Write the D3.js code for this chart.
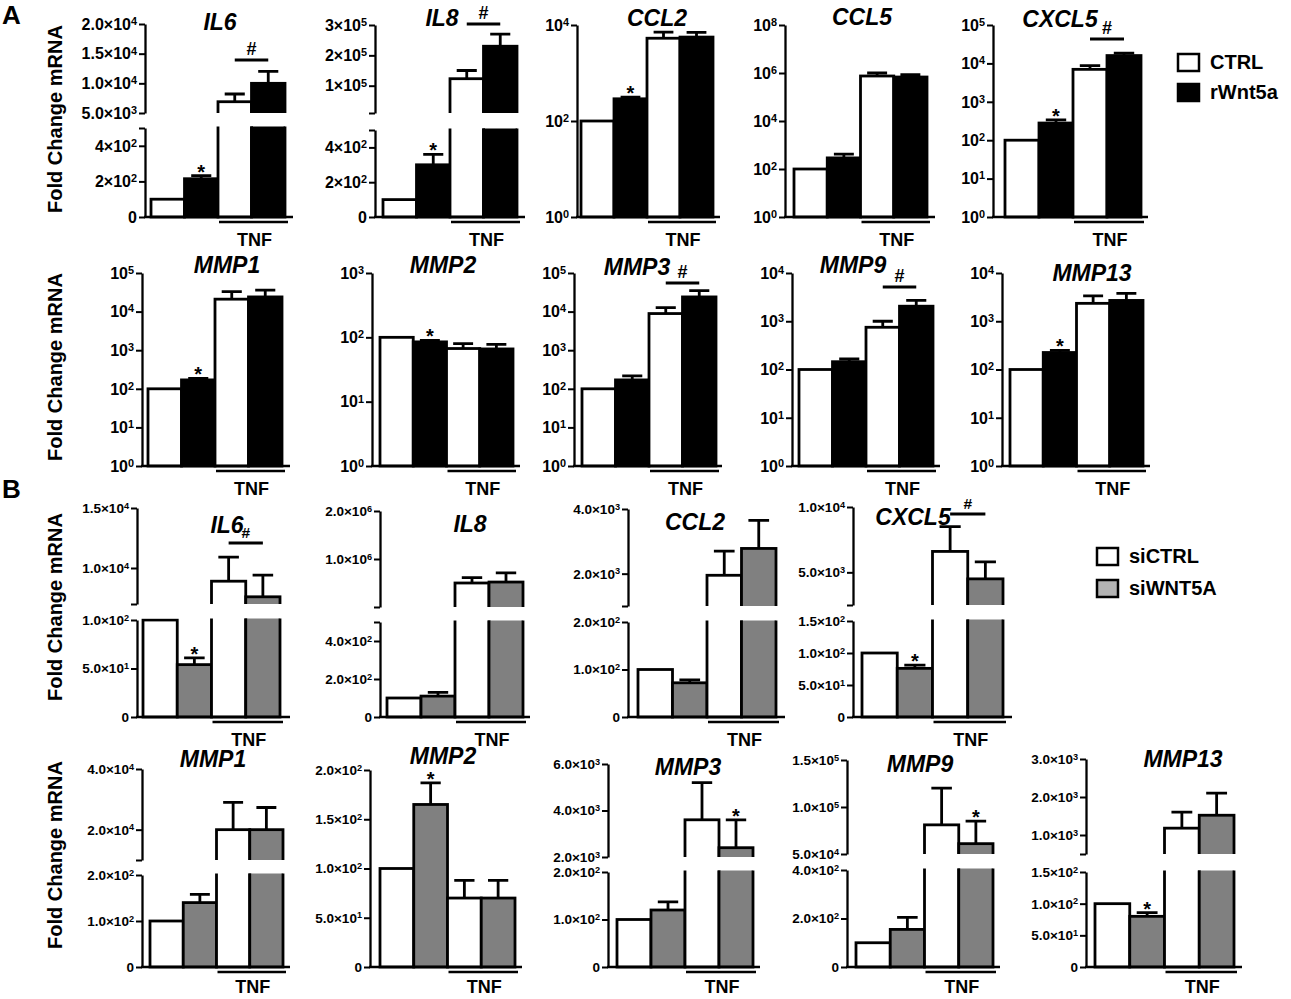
<!DOCTYPE html>
<html>
<head>
<meta charset="utf-8">
<script src="https://cdn.jsdelivr.net/npm/d3@7"></script>
<style>
  body { margin: 0; background: #fff; }
  svg text { font-family: "Liberation Sans", Arial, sans-serif; font-weight: bold; }
</style>
</head>
<body>
<svg id="fig" width="1291" height="999"></svg>
<script>
// ---- data (fold change mRNA, mean and SEM per condition) ----
var seriesA = ["CTRL", "rWnt5a"];
var seriesB = ["siCTRL", "siWNT5A"];

var genesA1 = ["IL6", "IL8", "CCL2", "CCL5", "CXCL5"];
var meanA1 = [[100, 215, 6900, 10000], [100, 300, 123000, 230000], [100, 290, 5300, 5600], [100, 290, 750000, 680000], [100, 280, 7000, 16000]];
var semA1 = [[0, 17, 1300, 2000], [0, 60, 27000, 40000], [0, 25, 1800, 1400], [0, 130, 250000, 170000], [0, 60, 1800, 2500]];
var starA1 = [[1], [1], [1], [], [1]];
var hashA1 = [1, 1, 0, 0, 1];
var ticksA1 = [
  {lo: [0, 200, 400, 500], loLab: ["0", "2×10^2", "4×10^2", ""], hi: [5000, 10000, 15000, 20000], hiLab: ["5.0×10^3", "1.0×10^4", "1.5×10^4", "2.0×10^4"]},
  {lo: [0, 200, 400, 500], loLab: ["0", "2×10^2", "4×10^2", ""], hi: [10000, 100000, 200000, 300000], hiLab: ["", "1×10^5", "2×10^5", "3×10^5"]},
  {log: [0, 2, 4]},
  {log: [0, 2, 4, 6, 8]},
  {log: [0, 1, 2, 3, 4, 5]}
];

var genesA2 = ["MMP1", "MMP2", "MMP3", "MMP9", "MMP13"];
var meanA2 = [[100, 170, 21000, 24000], [100, 85, 67, 66], [100, 170, 8900, 24000], [100, 145, 750, 2050], [100, 225, 2350, 2700]];
var semA2 = [[0, 15, 12000, 12000], [0, 5, 13, 12], [0, 45, 3800, 11000], [0, 20, 250, 650], [0, 25, 1000, 1100]];
var starA2 = [[1], [1], [], [], [1]];
var hashA2 = [0, 0, 1, 1, 0];
var ticksA2 = [{log: [0, 1, 2, 3, 4, 5]}, {log: [0, 1, 2, 3]}, {log: [0, 1, 2, 3, 4, 5]}, {log: [0, 1, 2, 3, 4]}, {log: [0, 1, 2, 3, 4]}];

var genesB1 = ["IL6", "IL8", "CCL2", "CXCL5"];
var meanB1 = [[100, 54, 8900, 7600], [100, 110, 500000, 520000], [100, 72, 1950, 2780], [100, 76, 6600, 4500]];
var semB1 = [[0, 7, 2000, 1800], [0, 20, 110000, 190000], [0, 6, 750, 870], [0, 5, 1900, 1300]];
var starB1 = [[1], [], [], [1]];
var hashB1 = [1, 0, 0, 1];
var ticksB1 = [
  {lo: [0, 50, 100], loLab: ["0", "5.0×10^1", "1.0×10^2"], hi: [7000, 10000, 15000], hiLab: ["", "1.0×10^4", "1.5×10^4"]},
  {lo: [0, 200, 400, 500], loLab: ["0", "2.0×10^2", "4.0×10^2", ""], hi: [0, 1000000, 2000000], hiLab: ["", "1.0×10^6", "2.0×10^6"]},
  {lo: [0, 100, 200], loLab: ["0", "1.0×10^2", "2.0×10^2"], hi: [1000, 2000, 4000], hiLab: ["", "2.0×10^3", "4.0×10^3"]},
  {lo: [0, 50, 100, 150], loLab: ["0", "5.0×10^1", "1.0×10^2", "1.5×10^2"], hi: [2500, 5000, 10000], hiLab: ["", "5.0×10^3", "1.0×10^4"]}
];

var genesB2 = ["MMP1", "MMP2", "MMP3", "MMP9", "MMP13"];
var meanB2 = [[100, 140, 20000, 20000], [100, 165, 70, 70], [100, 120, 3600, 2400], [100, 155, 81000, 61000], [100, 80, 1180, 1520]];
var semB2 = [[0, 18, 9000, 7300], [0, 22, 18, 18], [0, 17, 1600, 1200], [0, 50, 39000, 24000], [0, 6, 420, 580]];
var starB2 = [[], [1], [3], [3], [1]];
var hashB2 = [0, 0, 0, 0, 0];
var ticksB2 = [
  {lo: [0, 100, 200], loLab: ["0", "1.0×10^2", "2.0×10^2"], hi: [10000, 20000, 40000], hiLab: ["", "2.0×10^4", "4.0×10^4"]},
  {lo: [0, 50, 100, 150, 200], loLab: ["0", "5.0×10^1", "1.0×10^2", "1.5×10^2", "2.0×10^2"]},
  {lo: [0, 100, 200], loLab: ["0", "1.0×10^2", "2.0×10^2"], hi: [2000, 4000, 6000], hiLab: ["2.0×10^3", "4.0×10^3", "6.0×10^3"]},
  {lo: [0, 200, 400], loLab: ["0", "2.0×10^2", "4.0×10^2"], hi: [50000, 100000, 150000], hiLab: ["5.0×10^4", "1.0×10^5", "1.5×10^5"]},
  {lo: [0, 50, 100, 150], loLab: ["0", "5.0×10^1", "1.0×10^2", "1.5×10^2"], hi: [500, 1000, 2000, 3000], hiLab: ["", "1.0×10^3", "2.0×10^3", "3.0×10^3"]}
];

// ---- layout (pixel placement of each panel) ----
var layA1 = [
  {ax: 145, b0: 151, b1: 285, xe: 293, top: 24, loTop: 128, hiBot: 113, tx: 220, ty: 30, hashY: 60},
  {ax: 375, b0: 383, b1: 517, xe: 525, top: 25, loTop: 130, hiBot: 113, tx: 442, ty: 26, hashY: 24},
  {ax: 577, b0: 581, b1: 713, xe: 720, top: 25, tx: 657, ty: 26},
  {ax: 785, b0: 794, b1: 927, xe: 935, top: 25, tx: 862, ty: 25},
  {ax: 993, b0: 1005, b1: 1141, xe: 1148, top: 25, tx: 1060, ty: 27, hashY: 39}
];
var layA2 = [
  {ax: 142, b0: 148, b1: 282, xe: 290, top: 273, tx: 227, ty: 273},
  {ax: 372, b0: 380, b1: 513, xe: 520, top: 273, tx: 443, ty: 273},
  {ax: 574, b0: 582, b1: 716, xe: 722, top: 273, tx: 637, ty: 275, hashY: 283},
  {ax: 792, b0: 799, b1: 933, xe: 940, top: 273, tx: 853, ty: 273, hashY: 287},
  {ax: 1002, b0: 1010, b1: 1143, xe: 1150, top: 273, tx: 1092, ty: 281}
];
var layB1 = [
  {ax: 137, b0: 143, b1: 280, xe: 290, top: 508, loTop: 620, hiBot: 604, tx: 227, ty: 533, hashY: 543},
  {ax: 380, b0: 387, b1: 523, xe: 530, top: 511, loTop: 622, hiBot: 607, tx: 470, ty: 532},
  {ax: 628, b0: 638, b1: 776, xe: 785, top: 509, loTop: 622, hiBot: 606, tx: 695, ty: 530},
  {ax: 853, b0: 862, b1: 1003, xe: 1012, top: 507, loTop: 621, hiBot: 605, tx: 913, ty: 525, hashY: 514}
];
var layB2 = [
  {ax: 142, b0: 150, b1: 283, xe: 290, top: 769, loTop: 875, hiBot: 860, tx: 213, ty: 767},
  {ax: 370, b0: 380, b1: 515, xe: 522, top: 770, tx: 443, ty: 764},
  {ax: 608, b0: 617, b1: 753, xe: 760, top: 764, loTop: 872, hiBot: 857, tx: 688, ty: 775},
  {ax: 847, b0: 856, b1: 993, xe: 1000, top: 760, loTop: 870, hiBot: 854, tx: 920, ty: 772},
  {ax: 1086, b0: 1095, b1: 1234, xe: 1242, top: 759, loTop: 872, hiBot: 854, tx: 1183, ty: 767}
];

var svg = d3.select("#fig");
var panelCount = 0;

// write "2.0×10^4" as text with a superscript exponent
function supLabel(sel, str) {
  var parts = str.split("^");
  sel.append("tspan").text(parts[0]);
  if (parts[1]) sel.append("tspan").attr("dy", "-0.45em").attr("font-size", "0.68em").text(parts[1]);
}

function drawPanel(gene, mean, sem, ticks, L, base, stars, hash, fill, tickSize) {
  var idx = panelCount++;
  var g = svg.append("g");
  var x = d3.scaleBand().domain(d3.range(mean.length)).range([L.b0, L.b1]);
  var bw = x.bandwidth();

  // one or two scale segments (broken axis)
  var segs = [];
  if (ticks.log) {
    var e = ticks.log;
    segs.push({s: d3.scaleLog().domain([Math.pow(10, e[0]), Math.pow(10, e[e.length - 1])]).range([base, L.top]),
      v: e.map(function(k) { return Math.pow(10, k); }),
      lab: e.map(function(k) { return "10^" + k; }), y0: base, y1: L.top, first: true});
  } else {
    var loTop = ticks.hi ? L.loTop : L.top;
    segs.push({s: d3.scaleLinear().domain([ticks.lo[0], ticks.lo[ticks.lo.length - 1]]).range([base, loTop]),
      v: ticks.lo, lab: ticks.loLab, y0: base, y1: loTop, first: true});
    if (ticks.hi) {
      segs.push({s: d3.scaleLinear().domain([ticks.hi[0], ticks.hi[ticks.hi.length - 1]]).range([L.hiBot, L.top]),
        v: ticks.hi, lab: ticks.hiLab, y0: L.hiBot, y1: L.top, first: false});
    }
  }
  var loMax = segs[0].s.domain()[1];
  function segOf(v) { return (segs.length > 1 && v > loMax) ? segs[1] : segs[0]; }
  function yOf(v) { return segOf(v).s(v); }

  segs.forEach(function(sg, k) {
    var id = "clip" + idx + "_" + k;
    var dom = sg.s.domain();
    g.append("clipPath").attr("id", id).append("rect")
      .attr("x", L.ax).attr("y", sg.y1 - 1.5)
      .attr("width", L.xe - L.ax)
      .attr("height", sg.y0 - sg.y1 + (sg.first ? 5.5 : 1.5));

    var rows = mean.map(function(m, i) { return {m: m, i: i}; })
      .filter(function(d) { return sg.first || d.m > loMax; });
    g.append("g").attr("clip-path", "url(#" + id + ")")
      .selectAll("rect").data(rows).join("rect")
      .attr("x", function(d) { return x(d.i); })
      .attr("y", function(d) { return d.m > dom[1] ? sg.y1 - 10 : sg.s(d.m); })
      .attr("width", bw)
      .attr("height", function(d) {
        var yv = d.m > dom[1] ? sg.y1 - 10 : sg.s(d.m);
        return (sg.first ? base : sg.y0 + 10) - yv;
      })
      .attr("fill", function(d) { return d.i % 2 ? fill : "#fff"; })
      .attr("stroke", "#000").attr("stroke-width", 2.8);

    var axis = d3.axisLeft(sg.s).tickValues(sg.v).tickFormat(function() { return ""; })
      .tickSize(6).tickSizeOuter(0);
    var ag = g.append("g").attr("transform", "translate(" + L.ax + ",0)").call(axis);
    ag.select(".domain").attr("stroke-width", 2.3);
    ag.selectAll(".tick line").attr("stroke-width", 2);

    g.selectAll(null).data(sg.v.map(function(v, j) { return {v: v, l: sg.lab[j]}; })
        .filter(function(d) { return d.l; }))
      .join("text")
      .attr("x", L.ax - 8)
      .attr("y", function(d) { return sg.s(d.v) + tickSize * 0.36; })
      .attr("text-anchor", "end")
      .attr("font-size", tickSize)
      .each(function(d) { supLabel(d3.select(this), d.l); });
  });

  // error bars (upper half only)
  var err = mean.map(function(m, i) { return {m: m, s: sem[i], i: i}; }).filter(function(d) { return d.s > 0; });
  var cap = bw * 0.6;
  g.selectAll(null).data(err).join("path")
    .attr("d", function(d) {
      var cx = x(d.i) + bw / 2, y1 = yOf(d.m), y2 = yOf(d.m + d.s);
      return "M" + cx + "," + y1 + "V" + y2 + "M" + (cx - cap / 2) + "," + y2 + "H" + (cx + cap / 2);
    })
    .attr("stroke", "#000").attr("stroke-width", 2.8).attr("fill", "none");

  // significance marks
  g.selectAll(null).data(stars).join("text")
    .attr("x", function(i) { return x(i) + bw / 2; })
    .attr("y", function(i) { return yOf(mean[i] + sem[i]) + 3; })
    .attr("text-anchor", "middle").attr("font-size", 20).text("*");
  if (hash) {
    var hx0 = x(2) + bw / 2, hx1 = x(3) + bw / 2;
    g.append("line").attr("x1", hx0).attr("x2", hx1).attr("y1", L.hashY).attr("y2", L.hashY)
      .attr("stroke", "#000").attr("stroke-width", 2.8);
    g.append("text").attr("x", (hx0 + hx1) / 2).attr("y", L.hashY - 5)
      .attr("text-anchor", "middle").attr("font-size", tickSize + 2).text("#");
  }

  // x baseline and TNF bracket
  g.append("line").attr("x1", L.ax - 1).attr("x2", L.xe).attr("y1", base).attr("y2", base)
    .attr("stroke", "#000").attr("stroke-width", 2.6);
  g.append("line").attr("x1", x(2) + 1).attr("x2", L.b1 + 3).attr("y1", base + 5).attr("y2", base + 5)
    .attr("stroke", "#000").attr("stroke-width", 2.6);
  g.append("text").attr("x", (x(2) + L.b1) / 2 + 3).attr("y", Math.min(base + 29, 993))
    .attr("text-anchor", "middle").attr("font-size", 18).text("TNF");

  g.append("text").attr("x", L.tx).attr("y", L.ty).attr("text-anchor", "middle")
    .attr("font-size", 23).attr("font-style", "italic").text(gene);
}

function drawRow(genes, means, sems, ticks, lays, base, stars, hashes, fill, tickSize) {
  genes.forEach(function(gn, i) {
    drawPanel(gn, means[i], sems[i], ticks[i], lays[i], base, stars[i], hashes[i], fill, tickSize);
  });
}

drawRow(genesA1, meanA1, semA1, ticksA1, layA1, 217, starA1, hashA1, "#000", 16);
drawRow(genesA2, meanA2, semA2, ticksA2, layA2, 466, starA2, hashA2, "#000", 16);
drawRow(genesB1, meanB1, semB1, ticksB1, layB1, 717, starB1, hashB1, "#808080", 13.5);
drawRow(genesB2, meanB2, semB2, ticksB2, layB2, 967, starB2, hashB2, "#808080", 13.5);

// y-axis titles
[119, 367, 607, 855].forEach(function(cy) {
  svg.append("text").attr("transform", "translate(62," + cy + ") rotate(-90)")
    .attr("text-anchor", "middle").attr("font-size", 20).text("Fold Change mRNA");
});

// panel letters
svg.append("text").attr("x", 2).attr("y", 24).attr("font-size", 26).text("A");
svg.append("text").attr("x", 2).attr("y", 498).attr("font-size", 26).text("B");

// legends
function legend(names, fill, lx, ly, gap) {
  var lg = svg.append("g");
  lg.selectAll("rect").data(names).join("rect")
    .attr("x", lx).attr("y", function(d, i) { return ly + i * gap - 8; })
    .attr("width", 21).attr("height", 17)
    .attr("fill", function(d, i) { return i ? fill : "#fff"; })
    .attr("stroke", "#000").attr("stroke-width", 2.5);
  lg.selectAll("text").data(names).join("text")
    .attr("x", lx + 32).attr("y", function(d, i) { return ly + i * gap + 7; })
    .attr("font-size", 20).text(function(d) { return d; });
}
legend(seriesA, "#000", 1178, 62, 30);
legend(seriesB, "#b3b3b3", 1097, 556, 32);
</script>
</body>
</html>
